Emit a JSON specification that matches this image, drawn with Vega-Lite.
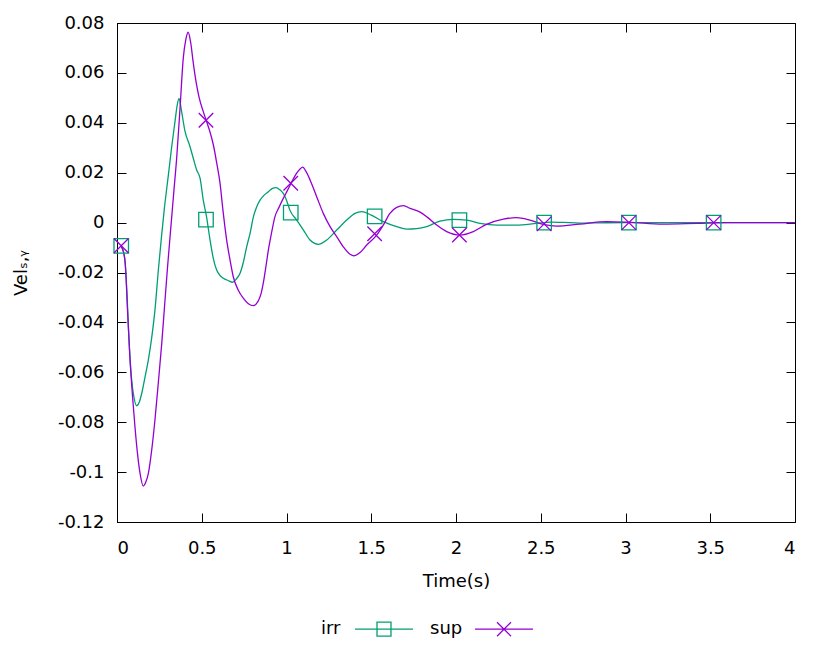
{
  "$schema": "https://vega.github.io/schema/vega-lite/v6.json",
  "width": 678,
  "height": 499,
  "autosize": "none",
  "padding": {"left": 117, "top": 23, "right": 35, "bottom": 147},
  "background": "white",
  "config": {
    "font": "DejaVu Sans",
    "view": {"stroke": "#000000", "strokeWidth": 1},
    "axis": {
      "grid": false,
      "domainColor": "#000000",
      "tickColor": "#000000",
      "labelColor": "#000000",
      "titleColor": "#000000",
      "labelFont": "DejaVu Sans",
      "titleFont": "DejaVu Sans",
      "labelFontSize": 18,
      "titleFontSize": 18,
      "titleFontWeight": "normal",
      "tickSize": -9,
      "tickWidth": 1,
      "domainWidth": 1
    },
    "legend": {
      "labelFont": "DejaVu Sans",
      "labelFontSize": 18,
      "labelColor": "#000000"
    }
  },
  "datasets": {
    "lines": [
      {"series": "irr", "t": 0.025, "v": -0.0095},
      {"series": "irr", "t": 0.04, "v": -0.012},
      {"series": "irr", "t": 0.05, "v": -0.018},
      {"series": "irr", "t": 0.06, "v": -0.03},
      {"series": "irr", "t": 0.07, "v": -0.046},
      {"series": "irr", "t": 0.085, "v": -0.062},
      {"series": "irr", "t": 0.1, "v": -0.07},
      {"series": "irr", "t": 0.116, "v": -0.0734},
      {"series": "irr", "t": 0.131, "v": -0.072},
      {"series": "irr", "t": 0.146, "v": -0.0684},
      {"series": "irr", "t": 0.165, "v": -0.062},
      {"series": "irr", "t": 0.185, "v": -0.055},
      {"series": "irr", "t": 0.205, "v": -0.046},
      {"series": "irr", "t": 0.224, "v": -0.035},
      {"series": "irr", "t": 0.244, "v": -0.019},
      {"series": "irr", "t": 0.262, "v": -0.006},
      {"series": "irr", "t": 0.28, "v": 0.006},
      {"series": "irr", "t": 0.303, "v": 0.019},
      {"series": "irr", "t": 0.322, "v": 0.03},
      {"series": "irr", "t": 0.342, "v": 0.0404},
      {"series": "irr", "t": 0.355, "v": 0.047},
      {"series": "irr", "t": 0.366, "v": 0.0498},
      {"series": "irr", "t": 0.38, "v": 0.045},
      {"series": "irr", "t": 0.4, "v": 0.037},
      {"series": "irr", "t": 0.431, "v": 0.0304},
      {"series": "irr", "t": 0.45, "v": 0.0258},
      {"series": "irr", "t": 0.47, "v": 0.0211},
      {"series": "irr", "t": 0.49, "v": 0.0178},
      {"series": "irr", "t": 0.509, "v": 0.009},
      {"series": "irr", "t": 0.529, "v": 0.002},
      {"series": "irr", "t": 0.549, "v": -0.007},
      {"series": "irr", "t": 0.568, "v": -0.0143},
      {"series": "irr", "t": 0.588, "v": -0.019},
      {"series": "irr", "t": 0.608, "v": -0.0212},
      {"series": "irr", "t": 0.627, "v": -0.0223},
      {"series": "irr", "t": 0.655, "v": -0.0232},
      {"series": "irr", "t": 0.682, "v": -0.0239},
      {"series": "irr", "t": 0.705, "v": -0.0225},
      {"series": "irr", "t": 0.726, "v": -0.0203},
      {"series": "irr", "t": 0.745, "v": -0.016},
      {"series": "irr", "t": 0.765, "v": -0.0097},
      {"series": "irr", "t": 0.785, "v": -0.0043},
      {"series": "irr", "t": 0.805, "v": 0.0024},
      {"series": "irr", "t": 0.825, "v": 0.0065},
      {"series": "irr", "t": 0.844, "v": 0.009},
      {"series": "irr", "t": 0.868, "v": 0.011},
      {"series": "irr", "t": 0.893, "v": 0.0124},
      {"series": "irr", "t": 0.915, "v": 0.0136},
      {"series": "irr", "t": 0.938, "v": 0.014},
      {"series": "irr", "t": 0.96, "v": 0.0132},
      {"series": "irr", "t": 0.981, "v": 0.0117},
      {"series": "irr", "t": 1.0, "v": 0.009},
      {"series": "irr", "t": 1.02, "v": 0.005},
      {"series": "irr", "t": 1.06, "v": 0.001},
      {"series": "irr", "t": 1.1, "v": -0.003},
      {"series": "irr", "t": 1.139, "v": -0.007},
      {"series": "irr", "t": 1.188, "v": -0.0087},
      {"series": "irr", "t": 1.237, "v": -0.007},
      {"series": "irr", "t": 1.296, "v": -0.003},
      {"series": "irr", "t": 1.355, "v": 0.001},
      {"series": "irr", "t": 1.404, "v": 0.0037},
      {"series": "irr", "t": 1.443, "v": 0.0044},
      {"series": "irr", "t": 1.5, "v": 0.003},
      {"series": "irr", "t": 1.571, "v": 0.0004},
      {"series": "irr", "t": 1.65, "v": -0.0016},
      {"series": "irr", "t": 1.709, "v": -0.0026},
      {"series": "irr", "t": 1.768, "v": -0.0024},
      {"series": "irr", "t": 1.827, "v": -0.0016},
      {"series": "irr", "t": 1.906, "v": 0.0006},
      {"series": "irr", "t": 1.985, "v": 0.0013},
      {"series": "irr", "t": 2.063, "v": 0.001},
      {"series": "irr", "t": 2.142, "v": -0.0003},
      {"series": "irr", "t": 2.24, "v": -0.001},
      {"series": "irr", "t": 2.357, "v": -0.001},
      {"series": "irr", "t": 2.476, "v": -0.0003},
      {"series": "irr", "t": 2.56, "v": 0.0002},
      {"series": "irr", "t": 2.63, "v": 0.0001},
      {"series": "irr", "t": 2.73, "v": -0.0002},
      {"series": "irr", "t": 2.85, "v": -0.0001},
      {"series": "irr", "t": 3.0, "v": 0},
      {"series": "irr", "t": 3.5, "v": 0},
      {"series": "irr", "t": 4.0, "v": 0},
      {"series": "sup", "t": 0.025, "v": -0.0095},
      {"series": "sup", "t": 0.047, "v": -0.015},
      {"series": "sup", "t": 0.062, "v": -0.035},
      {"series": "sup", "t": 0.077, "v": -0.055},
      {"series": "sup", "t": 0.092, "v": -0.07},
      {"series": "sup", "t": 0.106, "v": -0.0818},
      {"series": "sup", "t": 0.12, "v": -0.092},
      {"series": "sup", "t": 0.136, "v": -0.1005},
      {"series": "sup", "t": 0.155, "v": -0.1056},
      {"series": "sup", "t": 0.17, "v": -0.104},
      {"series": "sup", "t": 0.185, "v": -0.1005},
      {"series": "sup", "t": 0.205, "v": -0.091},
      {"series": "sup", "t": 0.224, "v": -0.079},
      {"series": "sup", "t": 0.244, "v": -0.064},
      {"series": "sup", "t": 0.264, "v": -0.0484},
      {"series": "sup", "t": 0.28, "v": -0.034},
      {"series": "sup", "t": 0.298, "v": -0.018},
      {"series": "sup", "t": 0.32, "v": 0.0},
      {"series": "sup", "t": 0.336, "v": 0.013},
      {"series": "sup", "t": 0.352, "v": 0.0258},
      {"series": "sup", "t": 0.372, "v": 0.046},
      {"series": "sup", "t": 0.391, "v": 0.0659},
      {"series": "sup", "t": 0.405, "v": 0.073},
      {"series": "sup", "t": 0.42, "v": 0.0763},
      {"series": "sup", "t": 0.435, "v": 0.072},
      {"series": "sup", "t": 0.45, "v": 0.064},
      {"series": "sup", "t": 0.465, "v": 0.057},
      {"series": "sup", "t": 0.485, "v": 0.05},
      {"series": "sup", "t": 0.509, "v": 0.0445},
      {"series": "sup", "t": 0.529, "v": 0.0404},
      {"series": "sup", "t": 0.55, "v": 0.036},
      {"series": "sup", "t": 0.569, "v": 0.031},
      {"series": "sup", "t": 0.588, "v": 0.024},
      {"series": "sup", "t": 0.608, "v": 0.0157},
      {"series": "sup", "t": 0.625, "v": 0.005},
      {"series": "sup", "t": 0.647, "v": -0.007},
      {"series": "sup", "t": 0.667, "v": -0.015},
      {"series": "sup", "t": 0.686, "v": -0.0217},
      {"series": "sup", "t": 0.715, "v": -0.027},
      {"series": "sup", "t": 0.745, "v": -0.0303},
      {"series": "sup", "t": 0.775, "v": -0.0325},
      {"series": "sup", "t": 0.805, "v": -0.0333},
      {"series": "sup", "t": 0.83, "v": -0.0318},
      {"series": "sup", "t": 0.85, "v": -0.0285},
      {"series": "sup", "t": 0.865, "v": -0.0235},
      {"series": "sup", "t": 0.88, "v": -0.017},
      {"series": "sup", "t": 0.893, "v": -0.011},
      {"series": "sup", "t": 0.912, "v": -0.004},
      {"series": "sup", "t": 0.932, "v": 0.0024},
      {"series": "sup", "t": 0.955, "v": 0.006},
      {"series": "sup", "t": 0.981, "v": 0.0097},
      {"series": "sup", "t": 1.005, "v": 0.0128},
      {"series": "sup", "t": 1.027, "v": 0.0158},
      {"series": "sup", "t": 1.06, "v": 0.0198},
      {"series": "sup", "t": 1.08, "v": 0.0215},
      {"series": "sup", "t": 1.096, "v": 0.0222},
      {"series": "sup", "t": 1.115, "v": 0.0205},
      {"series": "sup", "t": 1.139, "v": 0.0171},
      {"series": "sup", "t": 1.178, "v": 0.0104},
      {"series": "sup", "t": 1.217, "v": 0.0037},
      {"series": "sup", "t": 1.257, "v": -0.0016},
      {"series": "sup", "t": 1.296, "v": -0.0056},
      {"series": "sup", "t": 1.335, "v": -0.0097},
      {"series": "sup", "t": 1.375, "v": -0.0127},
      {"series": "sup", "t": 1.398, "v": -0.0133},
      {"series": "sup", "t": 1.434, "v": -0.012},
      {"series": "sup", "t": 1.473, "v": -0.009},
      {"series": "sup", "t": 1.532, "v": -0.005},
      {"series": "sup", "t": 1.571, "v": -0.001},
      {"series": "sup", "t": 1.61, "v": 0.0037},
      {"series": "sup", "t": 1.65, "v": 0.0061},
      {"series": "sup", "t": 1.69, "v": 0.0068},
      {"series": "sup", "t": 1.729, "v": 0.0057},
      {"series": "sup", "t": 1.788, "v": 0.0042},
      {"series": "sup", "t": 1.83, "v": 0.0022},
      {"series": "sup", "t": 1.886, "v": -0.001},
      {"series": "sup", "t": 1.945, "v": -0.0036},
      {"series": "sup", "t": 2.024, "v": -0.005},
      {"series": "sup", "t": 2.102, "v": -0.0036},
      {"series": "sup", "t": 2.18, "v": -0.0007},
      {"series": "sup", "t": 2.279, "v": 0.0014},
      {"series": "sup", "t": 2.357, "v": 0.002},
      {"series": "sup", "t": 2.436, "v": 0.001},
      {"series": "sup", "t": 2.515, "v": -0.0007},
      {"series": "sup", "t": 2.594, "v": -0.0014},
      {"series": "sup", "t": 2.73, "v": -0.0006},
      {"series": "sup", "t": 2.889, "v": 0.0004},
      {"series": "sup", "t": 3.03, "v": 0.0001},
      {"series": "sup", "t": 3.22, "v": -0.0006},
      {"series": "sup", "t": 3.42, "v": -0.0003},
      {"series": "sup", "t": 3.6, "v": 0},
      {"series": "sup", "t": 4.0, "v": 0}
    ],
    "markers": [
      {"series": "irr", "t": 0.025, "v": -0.0093},
      {"series": "irr", "t": 0.525, "v": 0.0012},
      {"series": "irr", "t": 1.025, "v": 0.004},
      {"series": "irr", "t": 1.52, "v": 0.0025},
      {"series": "irr", "t": 2.02, "v": 0.001},
      {"series": "irr", "t": 2.52, "v": 0.0},
      {"series": "irr", "t": 3.02, "v": 0.0},
      {"series": "irr", "t": 3.52, "v": 0.0},
      {"series": "sup", "t": 0.025, "v": -0.0093},
      {"series": "sup", "t": 0.525, "v": 0.041},
      {"series": "sup", "t": 1.025, "v": 0.0158},
      {"series": "sup", "t": 1.52, "v": -0.0045},
      {"series": "sup", "t": 2.02, "v": -0.005},
      {"series": "sup", "t": 2.52, "v": -0.0005},
      {"series": "sup", "t": 3.02, "v": 0.0},
      {"series": "sup", "t": 3.52, "v": 0.0}
    ]
  },
  "layer": [
    {
      "data": {"name": "lines"},
      "mark": {"type": "line", "interpolate": "monotone", "strokeWidth": 1.3},
      "encoding": {
        "x": {
          "field": "t", "type": "quantitative",
          "scale": {"domain": [0, 4], "nice": false, "zero": false},
          "axis": {
            "orient": "bottom",
            "title": "Time(s)",
            "values": [0, 0.5, 1, 1.5, 2, 2.5, 3, 3.5, 4],
            "labelExpr": "'' + datum.value",
            "labelPadding": 26,
            "titlePadding": 15
          }
        },
        "y": {
          "field": "v", "type": "quantitative",
          "scale": {"domain": [-0.12, 0.08], "nice": false, "zero": false},
          "axis": {
            "orient": "left",
            "title": "Velₛ,ᵧ",
            "values": [-0.12, -0.1, -0.08, -0.06, -0.04, -0.02, 0, 0.02, 0.04, 0.06, 0.08],
            "labelExpr": "'' + datum.value",
            "labelPadding": 22,
            "titlePadding": 27
          }
        },
        "color": {
          "field": "series", "type": "nominal",
          "scale": {"domain": ["irr", "sup"], "range": ["#009e73", "#9400d3"]},
          "legend": {
            "title": null,
            "orient": "none",
            "legendX": 204,
            "legendY": 576,
            "direction": "horizontal",
            "symbolType": "M-1,0H1",
            "symbolSize": 3364,
            "symbolStrokeWidth": 1.3,
            "columnPadding": 14,
            "encode": {
              "symbols": {
                "update": {
                  "shape": {"signal": "datum.value == 'irr' ? 'M-1,0H1M-0.241,-0.241H0.241V0.241H-0.241Z' : 'M-1,0H1M-0.241,-0.241L0.241,0.241M-0.241,0.241L0.241,-0.241'"},
                  "x": {"signal": "datum.value == 'irr' ? 63 : 74"},
                  "fill": {"value": "transparent"},
                  "stroke": {"scale": "color", "field": "value"},
                  "strokeWidth": {"value": 1.3}
                }
              },
              "labels": {
                "update": {
                  "x": {"value": 0},
                  "align": {"value": "left"}
                }
              }
            }
          }
        }
      }
    },
    {
      "data": {"name": "markers"},
      "transform": [{"filter": "datum.series == 'irr'"}],
      "mark": {"type": "point", "filled": false, "size": 210, "strokeWidth": 1.3, "opacity": 1, "color": "#009e73", "shape": "M-1,-1H1V1H-1Z"},
      "encoding": {
        "x": {
          "field": "t", "type": "quantitative",
          "scale": {"domain": [0, 4], "nice": false, "zero": false},
          "axis": {
            "orient": "top",
            "title": null,
            "labels": false,
            "domain": false,
            "values": [0, 0.5, 1, 1.5, 2, 2.5, 3, 3.5, 4]
          }
        },
        "y": {
          "field": "v", "type": "quantitative",
          "scale": {"domain": [-0.12, 0.08], "nice": false, "zero": false},
          "axis": {
            "orient": "right",
            "title": null,
            "labels": false,
            "domain": false,
            "values": [-0.12, -0.1, -0.08, -0.06, -0.04, -0.02, 0, 0.02, 0.04, 0.06, 0.08]
          }
        }
      }
    },
    {
      "data": {"name": "markers"},
      "transform": [{"filter": "datum.series == 'sup'"}],
      "mark": {"type": "point", "filled": false, "size": 210, "strokeWidth": 1.3, "opacity": 1, "color": "#9400d3", "shape": "M-1,-1L1,1M-1,1L1,-1"},
      "encoding": {
        "x": {
          "field": "t", "type": "quantitative",
          "scale": {"domain": [0, 4], "nice": false, "zero": false},
          "axis": null
        },
        "y": {
          "field": "v", "type": "quantitative",
          "scale": {"domain": [-0.12, 0.08], "nice": false, "zero": false},
          "axis": null
        }
      }
    }
  ],
  "resolve": {"scale": {"x": "independent", "y": "independent"}}
}
